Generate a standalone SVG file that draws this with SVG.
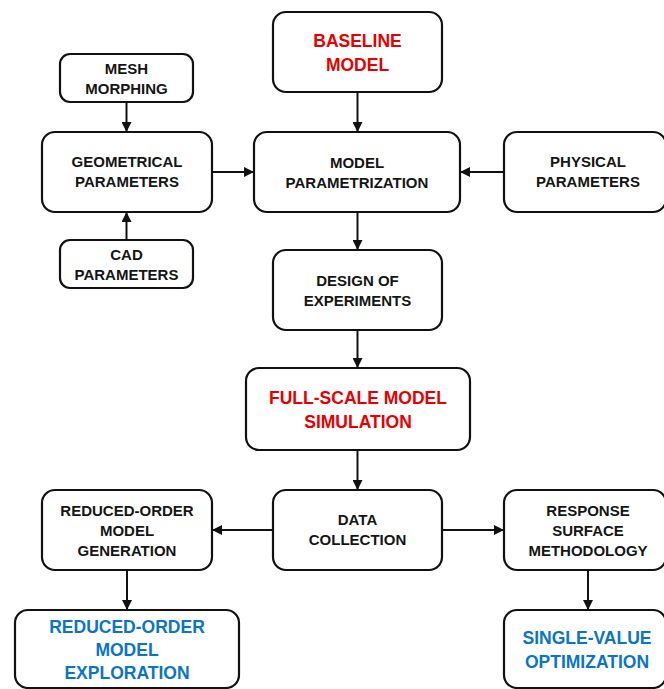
<svg xmlns="http://www.w3.org/2000/svg" width="664" height="689" viewBox="0 0 664 689">
<style>
.box{fill:#fff;stroke:#111;stroke-width:2.2}
text{font-family:"Liberation Sans",Arial,sans-serif;font-weight:bold;text-anchor:middle}
.k{font-size:15px;fill:#151515}
.r{font-size:17.5px;fill:#e60000}
.b{font-size:17.5px;fill:#0a74c6}
.c{stroke:#111;stroke-width:2;fill:none;marker-end:url(#ah)}
</style>
<defs>
<marker id="ah" viewBox="0 0 10 10" refX="10" refY="5" markerWidth="5" markerHeight="5" orient="auto" markerUnits="strokeWidth">
<path d="M0,0 L10,5 L0,10 z" fill="#111"/>
</marker>
</defs>
<rect width="664" height="689" fill="#fff"/>
<g id="connectors">
<line class="c" x1="126.5" y1="102" x2="126.5" y2="132"/>
<line class="c" x1="126.5" y1="240" x2="126.5" y2="212"/>
<line class="c" x1="212" y1="172" x2="254" y2="172"/>
<line class="c" x1="504" y1="172" x2="460" y2="172"/>
<line class="c" x1="357.5" y1="92" x2="357.5" y2="132"/>
<line class="c" x1="357.5" y1="212" x2="357.5" y2="250"/>
<line class="c" x1="357.5" y1="330" x2="357.5" y2="368"/>
<line class="c" x1="357.5" y1="450" x2="357.5" y2="490"/>
<line class="c" x1="273" y1="530" x2="212" y2="530"/>
<line class="c" x1="442" y1="530" x2="504" y2="530"/>
<line class="c" x1="127" y1="570" x2="127" y2="610"/>
<line class="c" x1="588" y1="570" x2="588" y2="610"/>
</g>
<g id="baseline">
<rect class="box" x="273" y="12" width="169" height="80" rx="13"/>
<text class="r" x="357.5" y="47">BASELINE</text>
<text class="r" x="357.5" y="71">MODEL</text>
</g>
<g id="mesh">
<rect class="box" x="60" y="54" width="133" height="48" rx="10"/>
<text class="k" x="126.5" y="74">MESH</text>
<text class="k" x="126.5" y="94">MORPHING</text>
</g>
<g id="geom">
<rect class="box" x="42" y="132" width="170" height="80" rx="13"/>
<text class="k" x="127" y="167">GEOMETRICAL</text>
<text class="k" x="127" y="187">PARAMETERS</text>
</g>
<g id="modelparam">
<rect class="box" x="254" y="132" width="206" height="80" rx="13"/>
<text class="k" x="357" y="168">MODEL</text>
<text class="k" x="357" y="188">PARAMETRIZATION</text>
</g>
<g id="physical">
<rect class="box" x="504" y="132" width="162" height="80" rx="13"/>
<text class="k" x="588" y="167">PHYSICAL</text>
<text class="k" x="588" y="187">PARAMETERS</text>
</g>
<g id="cad">
<rect class="box" x="60" y="240" width="133" height="48" rx="10"/>
<text class="k" x="126.5" y="260">CAD</text>
<text class="k" x="126.5" y="280">PARAMETERS</text>
</g>
<g id="doe">
<rect class="box" x="273" y="250" width="169" height="80" rx="13"/>
<text class="k" x="357.5" y="286">DESIGN OF</text>
<text class="k" x="357.5" y="306">EXPERIMENTS</text>
</g>
<g id="fullscale">
<rect class="box" x="246" y="368" width="224" height="82" rx="13"/>
<text class="r" x="358" y="404">FULL-SCALE MODEL</text>
<text class="r" x="358" y="428">SIMULATION</text>
</g>
<g id="romgen">
<rect class="box" x="42" y="490" width="170" height="80" rx="13"/>
<text class="k" x="127" y="516">REDUCED-ORDER</text>
<text class="k" x="127" y="536">MODEL</text>
<text class="k" x="127" y="556">GENERATION</text>
</g>
<g id="data">
<rect class="box" x="273" y="490" width="169" height="80" rx="13"/>
<text class="k" x="357.5" y="525">DATA</text>
<text class="k" x="357.5" y="545">COLLECTION</text>
</g>
<g id="rsm">
<rect class="box" x="504" y="490" width="162" height="80" rx="13"/>
<text class="k" x="588" y="516">RESPONSE</text>
<text class="k" x="588" y="536">SURFACE</text>
<text class="k" x="588" y="556">METHODOLOGY</text>
</g>
<g id="romexp">
<rect class="box" x="15" y="610" width="224" height="78" rx="13"/>
<text class="b" x="127" y="633">REDUCED-ORDER</text>
<text class="b" x="127" y="656">MODEL</text>
<text class="b" x="127" y="679">EXPLORATION</text>
</g>
<g id="svo">
<rect class="box" x="504" y="610" width="162" height="78" rx="13"/>
<text class="b" x="587" y="644">SINGLE-VALUE</text>
<text class="b" x="587" y="668">OPTIMIZATION</text>
</g>
</svg>
